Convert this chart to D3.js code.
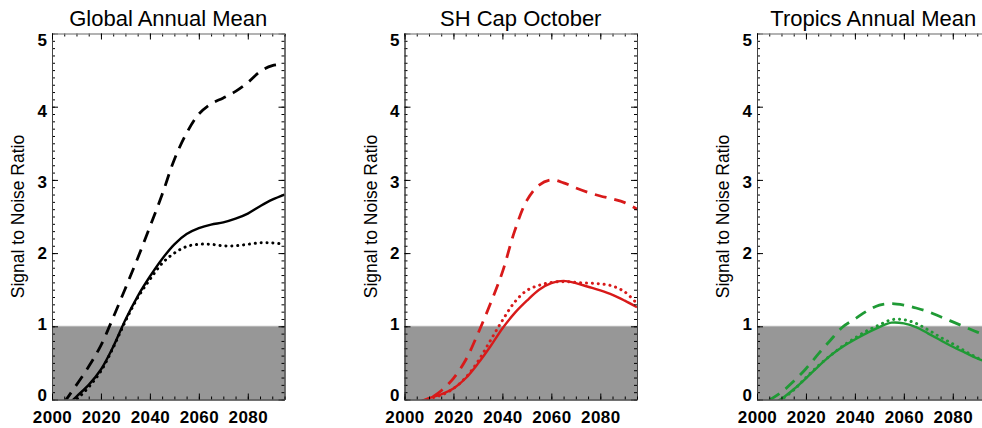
<!DOCTYPE html>
<html>
<head>
<meta charset="utf-8">
<script src="https://cdn.jsdelivr.net/npm/d3@7"></script>
<style>
  html, body { margin: 0; padding: 0; background: #fff; }
  svg { display: block; }
  text { font-family: "Liberation Sans", Arial, Helvetica, sans-serif; fill: #000; }
</style>
</head>
<body>
<svg id="chart" width="982" height="428"></svg>
<script>
// ---------------- DATA ----------------
const titles = ["Global Annual Mean", "SH Cap October", "Tropics Annual Mean"];
const yLabel = "Signal to Noise Ratio";
const years = [2005,2010,2015,2020,2025,2030,2035,2040,2045,2050,2055,2060,2065,2070,2075,2080,2085,2090,2095];

const globalSolid  = [-0.12,0.04,0.20,0.41,0.72,1.09,1.41,1.68,1.92,2.12,2.26,2.34,2.39,2.42,2.47,2.54,2.64,2.73,2.80];
const globalDotted = [-0.15,0.00,0.17,0.39,0.71,1.07,1.39,1.64,1.86,2.00,2.09,2.12,2.12,2.10,2.10,2.12,2.14,2.14,2.12];
const globalDashed = [-0.04,0.20,0.45,0.74,1.12,1.52,1.93,2.36,2.80,3.28,3.64,3.90,4.04,4.12,4.21,4.33,4.48,4.56,4.58];

const shSolid  = [-0.05,0.02,0.07,0.15,0.29,0.49,0.72,0.97,1.18,1.35,1.50,1.59,1.62,1.59,1.54,1.49,1.43,1.35,1.26];
const shDotted = [-0.05,0.01,0.06,0.15,0.30,0.52,0.80,1.08,1.33,1.49,1.56,1.60,1.61,1.60,1.59,1.58,1.55,1.47,1.31];
const shDashed = [-0.12,0.00,0.12,0.29,0.54,0.90,1.30,1.74,2.30,2.72,2.93,3.00,2.96,2.89,2.83,2.78,2.74,2.69,2.60];

const trSolid  = [-0.08,0.01,0.14,0.29,0.45,0.60,0.72,0.82,0.91,0.99,1.05,1.04,0.99,0.90,0.81,0.72,0.64,0.56,0.50];
const trDotted = [-0.10,0.00,0.13,0.30,0.46,0.60,0.73,0.84,0.94,1.02,1.09,1.09,1.04,0.95,0.85,0.76,0.66,0.57,0.50];
const trDashed = [-0.01,0.10,0.25,0.42,0.62,0.81,0.99,1.10,1.21,1.29,1.31,1.29,1.25,1.20,1.13,1.06,0.99,0.92,0.86];

const colors = ["#000000", "#d81a1a", "#1f9a35"];
const panelSeries = [
  [globalSolid, globalDotted, globalDashed],
  [shSolid, shDotted, shDashed],
  [trSolid, trDotted, trDashed]
];
const yTicks = [0,1,2,3,4,5];
const xTicks = [2000,2020,2040,2060,2080];
const threshold = 1;

// ---------------- LAYOUT ----------------
const svg = d3.select("#chart");
const plotLefts = [52, 404.5, 757];
const plotW = 232.5, plotTop = 33.5, plotBottom = 399.5;

const y = d3.scaleLinear().domain([0, 5]).range([plotBottom, plotTop]);
// tick-label placement (labels sit slightly compressed relative to ticks, as in the original)
const yLab = d3.scaleLinear().domain([0, 5]).range([395, 40]);

panelSeries.forEach((series, p) => {
  const left = plotLefts[p];
  const x = d3.scaleLinear().domain([2000, 2095]).range([left, left + plotW]);
  const g = svg.append("g");
  const clipId = "clip" + p;
  svg.append("clipPath").attr("id", clipId)
    .append("rect").attr("x", left).attr("y", plotTop).attr("width", plotW).attr("height", plotBottom - plotTop);

  // gray noise band
  g.append("rect")
    .attr("x", x(2000)).attr("y", y(threshold))
    .attr("width", x(2095) - x(2000)).attr("height", y(0) - y(threshold))
    .attr("fill", "#979797");
  g.append("line")
    .attr("x1", x(2000)).attr("x2", x(2095))
    .attr("y1", y(threshold)).attr("y2", y(threshold))
    .attr("stroke", "#b4b4b4").attr("stroke-width", 1);

  // lines
  const line = d3.line()
    .x((d, i) => x(years[i]))
    .y(d => y(d))
    .curve(d3.curveCatmullRom.alpha(0.5));
  const lg = g.append("g").attr("clip-path", `url(#${clipId})`);
  const styles = [
    { dash: null, w: 2.4, cap: "butt" },
    { dash: "0.1,5.8", w: 3, cap: "round" },
    { dash: "12,8", w: 2.8, cap: "butt" }
  ];
  series.forEach((vals, k) => {
    const s = styles[k];
    const path = lg.append("path")
      .datum(vals)
      .attr("d", line)
      .attr("fill", "none")
      .attr("stroke", colors[p])
      .attr("stroke-width", s.w)
      .attr("stroke-linecap", s.cap)
      .attr("stroke-linejoin", "round");
    if (s.dash) path.attr("stroke-dasharray", s.dash);
  });

  // axes
  const minorY = d3.range(0, 5.0001, 0.1);
  const minorX = d3.range(2000, 2096, 5);

  const mk = (axis) => g.append("g").call(axis)
    .call(a => a.select(".domain").attr("stroke", "#444").attr("stroke-width", 1))
    .call(a => a.selectAll("line").attr("stroke", "#000"));

  // left minor + major
  mk(d3.axisLeft(y).tickValues(minorY).tickSizeInner(-3).tickSizeOuter(0).tickFormat(""))
    .attr("transform", `translate(${left},0)`);
  mk(d3.axisLeft(y).tickValues(yTicks).tickSizeInner(-6).tickSizeOuter(0).tickFormat(""))
    .attr("transform", `translate(${left},0)`);
  g.append("g").selectAll("text").data(yTicks).join("text")
    .attr("x", left - 5)
    .attr("y", d => yLab(d))
    .attr("text-anchor", "end")
    .attr("dominant-baseline", "central")
    .attr("font-size", 17).attr("font-weight", "bold")
    .text(d3.format("d"));

  // right mirrored
  mk(d3.axisRight(y).tickValues(minorY).tickSizeInner(-3).tickSizeOuter(0).tickFormat(""))
    .attr("transform", `translate(${left + plotW},0)`);
  mk(d3.axisRight(y).tickValues(yTicks).tickSizeInner(-6).tickSizeOuter(0).tickFormat(""))
    .attr("transform", `translate(${left + plotW},0)`);

  // bottom
  mk(d3.axisBottom(x).tickValues(minorX).tickSizeInner(-3).tickSizeOuter(0).tickFormat(""))
    .attr("transform", `translate(0,${plotBottom})`);
  const bottomMajor = mk(d3.axisBottom(x).tickValues(xTicks).tickSizeInner(-6).tickSizeOuter(0).tickPadding(11).tickFormat(d3.format("d")))
    .attr("transform", `translate(0,${plotBottom})`);
  bottomMajor.selectAll("text").attr("font-size", 17).attr("font-weight", "bold")
    .attr("font-family", "Liberation Sans, Arial, sans-serif").attr("letter-spacing", "0.4px");

  // top
  mk(d3.axisTop(x).tickValues(minorX).tickSizeInner(-3).tickSizeOuter(0).tickFormat(""))
    .attr("transform", `translate(0,${plotTop})`)
    .select(".domain").attr("stroke", "#999");
  mk(d3.axisTop(x).tickValues(xTicks).tickSizeInner(-6).tickSizeOuter(0).tickFormat(""))
    .attr("transform", `translate(0,${plotTop})`)
    .select(".domain").attr("stroke", "#999");

  // title
  svg.append("text")
    .attr("x", left + plotW / 2).attr("y", 26)
    .attr("text-anchor", "middle")
    .attr("font-size", 22)
    .text(titles[p]);

  // y label
  svg.append("text")
    .attr("transform", `translate(${left - 34},${(plotTop + plotBottom) / 2}) rotate(-90)`)
    .attr("text-anchor", "middle")
    .attr("dominant-baseline", "central")
    .attr("font-size", 17.5)
    .text(yLabel);
});
</script>
</body>
</html>
